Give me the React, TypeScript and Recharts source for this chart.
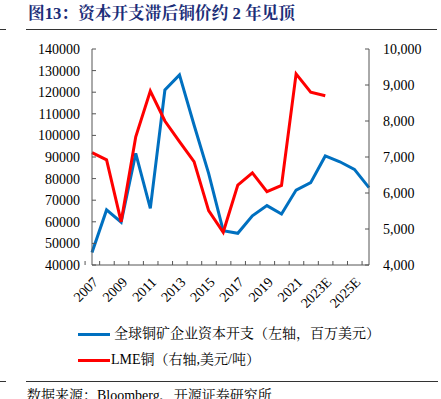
import React from 'react';
import { LineChart, Line, XAxis, YAxis } from 'recharts';

const years = ['2007','2008','2009','2010','2011','2012','2013','2014','2015','2016','2017','2018','2019','2020','2021','2022','2023E','2024E','2025E','2026E'];
const capex = [45800,65500,59800,91700,66200,121000,128000,104800,82400,55900,54700,62800,67500,63600,74700,78100,90500,87800,84300,75800];
const copper: (number|null)[] = [7120,6920,5200,7560,8830,8000,7430,6870,5510,4910,6220,6560,6040,6210,9310,8800,8700,null,null,null];
const leftTicks = [40000,50000,60000,70000,80000,90000,100000,110000,120000,130000,140000];
const rightTicks = [4000,5000,6000,7000,8000,9000,10000];

const data = years.map((y, i) => ({ year: y, capex: capex[i], copper: copper[i] }));

const PLOT_LEFT = 92;
const PLOT_RIGHT = 369;
const BAND = (PLOT_RIGHT - PLOT_LEFT) / years.length;
const FONT = '"Liberation Serif", "Times New Roman", serif';
const CJK = '"Liberation Serif", "Noto Serif CJK SC", "Noto Sans CJK SC", serif';
const AXIS = '#555';

const XTick = (props: any) => {
  const { x, y, payload, index } = props;
  const i = index ?? payload.index;
  return (
    <g>
      <line x1={x - BAND / 2} x2={x - BAND / 2} y1={y} y2={y - 4} stroke={AXIS} strokeWidth={1} />
      {i % 2 === 0 ? (
        <text x={0} y={0} transform={`translate(${x + 7},${y + 18}) rotate(-45)`} textAnchor="end" fontSize={14} fontFamily={FONT} fill="#000">
          {payload.value}
        </text>
      ) : null}
    </g>
  );
};

export default function App() {
  return (
    <div style={{ position: 'absolute', left: 0, top: 0, width: 441, height: 399, background: '#fff', overflow: 'hidden', fontFamily: CJK }}>
      <div style={{ position: 'absolute', left: 0, top: 29, width: 6, height: 1, background: '#333' }} />
      <div style={{ position: 'absolute', left: 28, top: 4, fontSize: 16.7, fontWeight: 'bold', color: '#1c2e78', whiteSpace: 'nowrap', lineHeight: '20px' }}>
        图13：资本开支滞后铜价约 2 年见顶
      </div>
      <div style={{ position: 'absolute', left: 26, top: 29, width: 411, height: 1, background: '#333' }} />
      <div style={{ position: 'absolute', left: 0, top: 0 }}>
        <LineChart width={441} height={310} data={data} margin={{ top: 49, right: 0, bottom: 0, left: 0 }}>
          <XAxis dataKey="year" interval={0} tickSize={0} tickMargin={0} tick={<XTick />} height={45} stroke={AXIS} />
          <YAxis yAxisId="left" orientation="left" width={92} domain={[40000, 140000]} ticks={leftTicks} interval={0}
            tickSize={-4} tickMargin={16} stroke={AXIS}
            tick={{ fontSize: 14, fontFamily: FONT, fill: '#000' }} />
          <YAxis yAxisId="right" orientation="right" width={72} domain={[4000, 10000]} ticks={rightTicks} interval={0}
            tickSize={-4} tickMargin={18} stroke={AXIS}
            tickFormatter={(v: number) => v.toLocaleString('en-US')}
            tick={{ fontSize: 14, fontFamily: FONT, fill: '#000', textAnchor: 'start' }} />
          <Line yAxisId="left" dataKey="capex" stroke="#0070c0" strokeWidth={3} dot={false} isAnimationActive={false} />
          <Line yAxisId="right" dataKey="copper" stroke="#ff0000" strokeWidth={3} dot={false} isAnimationActive={false} connectNulls={false} />
        </LineChart>
      </div>
      <div style={{ position: 'absolute', left: 78, top: 333, width: 32, height: 3, background: '#0070c0' }} />
      <div style={{ position: 'absolute', left: 114, top: 324, fontSize: 14, lineHeight: '20px', whiteSpace: 'nowrap', color: '#000' }}>
        全球铜矿企业资本开支（左轴，百万美元）
      </div>
      <div style={{ position: 'absolute', left: 78, top: 359, width: 32, height: 3, background: '#ff0000' }} />
      <div style={{ position: 'absolute', left: 111, top: 350, fontSize: 14, lineHeight: '20px', whiteSpace: 'nowrap', color: '#000' }}>
        LME铜（右轴,美元/吨）
      </div>
      <div style={{ position: 'absolute', left: 0, top: 381, width: 6, height: 1, background: '#333' }} />
      <div style={{ position: 'absolute', left: 26, top: 381, width: 412, height: 1, background: '#333' }} />
      <div style={{ position: 'absolute', left: 27, top: 386, fontSize: 14, lineHeight: '20px', whiteSpace: 'nowrap', color: '#000' }}>
        数据来源：Bloomberg、开源证券研究所
      </div>
    </div>
  );
}
